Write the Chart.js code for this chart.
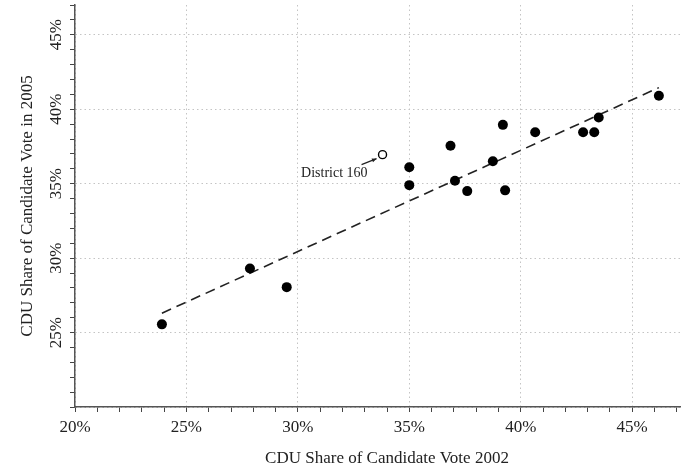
<!DOCTYPE html>
<html>
<head>
<meta charset="utf-8">
<script src="https://cdn.jsdelivr.net/npm/chart.js@4.4.1/dist/chart.umd.min.js"></script>
<style>
  html, body { margin: 0; padding: 0; background: #fff; overflow: hidden; }
  canvas { display: block; }
</style>
</head>
<body>
<canvas id="myChart" width="699" height="470"></canvas>
<script>
// district results, CDU share of candidate vote (%)
var share2002 = [23.9, 27.85, 29.5, 35.0, 35.0, 36.85, 37.05, 37.6, 38.75, 39.2, 39.3, 40.65, 42.8, 43.3, 43.5, 46.2];
var share2005 = [25.55, 29.3, 28.05, 36.1, 34.9, 37.55, 35.2, 34.5, 36.5, 38.95, 34.55, 38.45, 38.45, 38.45, 39.45, 40.9];

// the outlier district
var outlierName = 'District 160';
var outlier2002 = [33.8];
var outlier2005 = [36.95];

// fitted line end points
var trend2002 = [23.9, 46.2];
var trend2005 = [26.3, 41.45];

var xRange = [20, 48];
var yRange = [20, 47];

function toPoints(xs, ys) {
	var pts = [];
	for (var i = 0; i < xs.length; i++) {
		pts.push({ x: xs[i], y: ys[i] });
	}
	return pts;
}

var serif = "'Liberation Serif', 'DejaVu Serif', serif";

// draws the label and the little arrow next to the open circle
var outlierLabel = {
	id: 'outlierLabel',
	afterDatasetsDraw: function(chart) {
		var ctx = chart.ctx;
		var px = chart.scales.x.getPixelForValue(outlier2002[0]);
		var py = chart.scales.y.getPixelForValue(outlier2005[0]);
		ctx.save();
		ctx.fillStyle = '#222';
		ctx.font = '14px ' + serif;
		ctx.textAlign = 'right';
		ctx.textBaseline = 'middle';
		ctx.fillText(outlierName, px - 15, py + 19);

		var x0 = px - 21, y0 = py + 10;
		var x1 = px - 6, y1 = py + 4;
		ctx.strokeStyle = '#222';
		ctx.lineWidth = 1.2;
		ctx.beginPath();
		ctx.moveTo(x0, y0);
		ctx.lineTo(x1, y1);
		ctx.stroke();
		var a = Math.atan2(y1 - y0, x1 - x0);
		ctx.beginPath();
		ctx.moveTo(x1, y1);
		ctx.lineTo(x1 - 5 * Math.cos(a - 0.4), y1 - 5 * Math.sin(a - 0.4));
		ctx.lineTo(x1 - 5 * Math.cos(a + 0.4), y1 - 5 * Math.sin(a + 0.4));
		ctx.closePath();
		ctx.fillStyle = '#222';
		ctx.fill();
		ctx.restore();
	}
};

function gridColor(c) {
	return (c.tick && c.tick.value % 5 === 0) ? '#c4c4c4' : 'rgba(0,0,0,0)';
}
function xLabel(v) {
	return v % 5 === 0 ? v + '%' : '';
}
// no label at the origin on the vertical axis
function yLabel(v) {
	return (v % 5 === 0 && v > yRange[0]) ? v + '%' : '';
}

var ctx = document.getElementById('myChart').getContext('2d');
var myChart = new Chart(ctx, {
	type: 'scatter',
	data: {
		datasets: [{
			label: 'districts',
			data: toPoints(share2002, share2005),
			backgroundColor: '#000',
			borderColor: '#000',
			pointRadius: 5,
			borderWidth: 0
		}, {
			label: outlierName,
			data: toPoints(outlier2002, outlier2005),
			backgroundColor: '#fff',
			borderColor: '#000',
			pointRadius: 4,
			borderWidth: 1.4
		}, {
			type: 'line',
			label: 'fit',
			data: toPoints(trend2002, trend2005),
			borderColor: '#222',
			borderWidth: 1.6,
			borderDash: [10, 6],
			pointRadius: 0,
			fill: false
		}]
	},
	options: {
		responsive: false,
		animation: false,
		layout: { autoPadding: false, padding: { top: 5, left: 0, right: 0, bottom: 0 } },
		plugins: {
			legend: { display: false },
			tooltip: { enabled: false }
		},
		scales: {
			x: {
				type: 'linear',
				min: xRange[0],
				max: xRange[1],
				afterFit: function(s) {
					s.height = 63;
					s.paddingLeft = 0;
					s.paddingRight = 0;
				},
				ticks: {
					stepSize: 1,
					autoSkip: false,
					maxRotation: 0,
					padding: 5,
					color: '#222',
					font: { family: serif, size: 17 },
					callback: xLabel
				},
				grid: {
					color: gridColor,
					lineWidth: 1,
					tickColor: '#444',
					tickLength: 5
				},
				border: { color: '#555', width: 1.5, dash: [1.5, 3] },
				title: {
					display: true,
					text: 'CDU Share of Candidate Vote 2002',
					color: '#222',
					font: { family: serif, size: 17 },
					padding: { top: 0, bottom: 1 }
				}
			},
			y: {
				type: 'linear',
				min: yRange[0],
				max: yRange[1],
				afterFit: function(s) {
					s.width = 75;
					s.paddingTop = 0;
					s.paddingBottom = 0;
				},
				ticks: {
					stepSize: 1,
					autoSkip: false,
					minRotation: 90,
					maxRotation: 90,
					crossAlign: 'center',
					padding: -2,
					color: '#222',
					font: { family: serif, size: 17 },
					callback: yLabel
				},
				grid: {
					color: gridColor,
					lineWidth: 1,
					tickColor: '#444',
					tickLength: 5
				},
				border: { color: '#555', width: 1.5, dash: [1.5, 3] },
				title: {
					display: true,
					text: 'CDU Share of Candidate Vote in 2005',
					color: '#222',
					font: { family: serif, size: 17 },
					padding: { top: 17, bottom: 0 }
				}
			}
		}
	},
	plugins: [outlierLabel]
});
</script>
</body>
</html>
